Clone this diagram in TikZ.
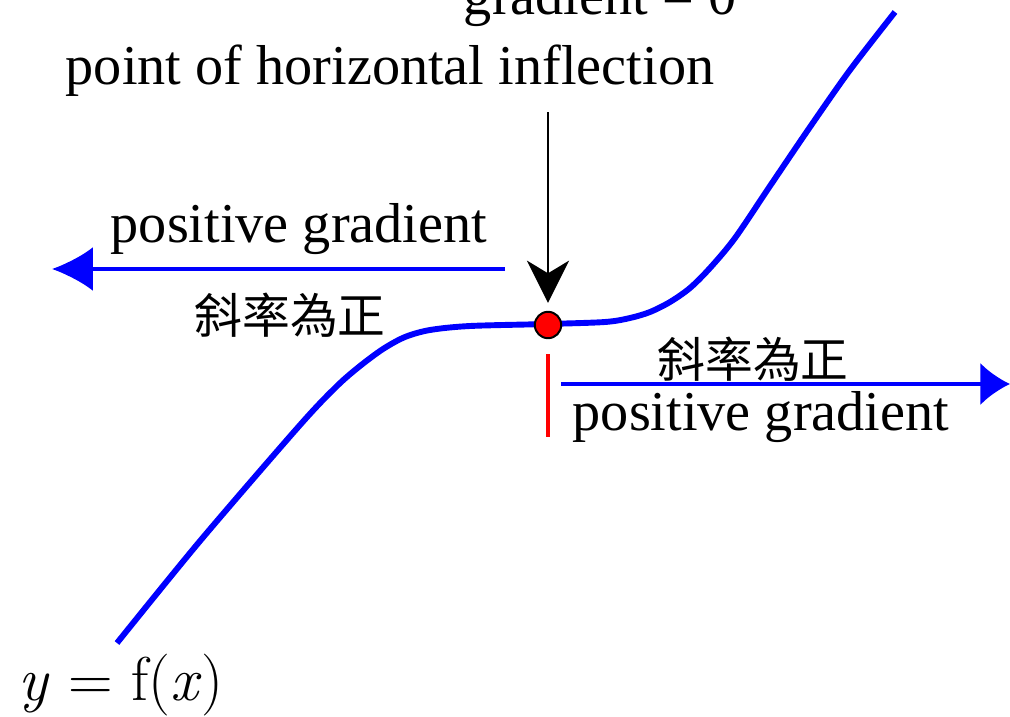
\documentclass[tikz,border=0pt]{standalone}
\usepackage{fontspec}
\setmainfont{Liberation Serif}
\newfontfamily\cjk{Noto Sans CJK TC}
\newfontfamily\lmr{Latin Modern Roman}
\usetikzlibrary{arrows.meta}

\begin{document}
\begin{tikzpicture}[
    x=0.025cm,y=-0.025cm,
    lbl/.style={font=\fontsize{40}{48}\selectfont,inner sep=0pt,anchor=base},
    cjklbl/.style={font=\cjk\fontsize{34}{40}\selectfont,inner sep=0pt},
    curve/.style={blue,line width=4.2pt},
    bflow/.style={blue,line width=2.3pt},
    pointer/.style={-{Stealth[length=30pt,width=30pt,inset=9pt]},line width=1.5pt,black,shorten >=0.2cm},
    infl/.style={circle,draw=black,line width=1.4pt,fill=red,minimum size=0.66cm,inner sep=0pt}
  ]
    \clip (0,0) rectangle (1010,716);

    % the curve y = f(x)
    \draw[curve] plot[smooth,tension=0.5] coordinates {
      (117,643) (200,541) (300,425) (337,386) (360,366) (383,349)
      (405,337) (430,330) (470,326) (547,324) (605,322) (630,318)
      (650,312) (670,302) (690,288) (710,268) (735,238) (770,186)
      (810,127) (850,70) (895,12)};

    % labels
    \node[lbl] (zero) at (600,15) {gradient = 0};
    \node[lbl] (pohi) at (390,84) {point of horizontal inflection};
    \node[lbl] (posl) at (299,242) {positive gradient};
    \node[cjklbl] (cjkl) at (290,315) {斜率為正};
    \node[cjklbl] (cjkr) at (753,359) {斜率為正};
    \node[lbl] (posr) at (761,430) {positive gradient};
    \node[lbl,anchor=base west,font=\lmr\fontsize{44}{52}\selectfont] (fx) at (18,700) {\textit{y} = f(\textit{x})};

    % point of inflection
    \node[infl] (dot) at (548,325) {};
    \coordinate (arrtop) at (548,112);
    \draw[pointer] (arrtop) -- (dot.north);
    \draw[red,line width=2.2pt] (548,354) -- (548,437);

    % gradient arrows
    \coordinate (lfrom) at (505,269);
    \coordinate (lto) at (52,269);
    \coordinate (rfrom) at (561,384);
    \coordinate (rto) at (1010,384);
    \draw[bflow,-{Latex[length=29pt,width=31pt]}] (lfrom) -- (lto);
    \draw[bflow,-{Latex[length=21pt,width=30pt]}] (rfrom) -- (rto);
\end{tikzpicture}
\end{document}
